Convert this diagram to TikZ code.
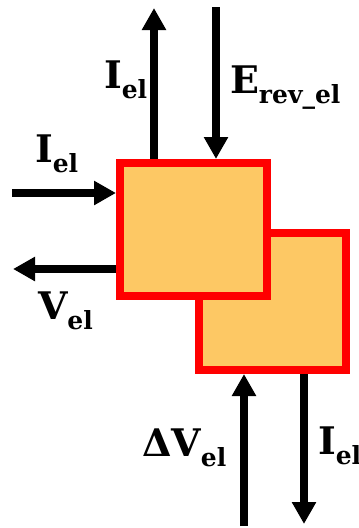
\documentclass[tikz,border=0pt]{standalone}
\usepackage{fontspec}
\usetikzlibrary{arrows.meta}
\newfontfamily\labfont{DejaVu Serif}
\definecolor{boxfill}{RGB}{253,200,100}
\newcommand\mylab[2]{{\labfont\bfseries\fontsize{38}{40}\selectfont #1\raisebox{-10pt}{\fontsize{25}{27}\selectfont #2}}}
\begin{document}
\begin{tikzpicture}[x=1pt,y=-1pt,
  blockbox/.style={draw=red,fill=boxfill,line width=8pt,inner sep=0pt,minimum width=147pt},
  arr/.style={line width=8pt,-{Triangle[width=23pt,length=22pt]}},
  lab/.style={anchor=base west,inner sep=0pt,outer sep=0pt}]
\useasboundingbox (0,0) rectangle (359,528);
\node[blockbox,minimum height=137pt] (b2) at (272.75,301.5) {};
\node[blockbox,minimum height=133pt] (b1) at (193.5,229.5) {};
% free ends
\coordinate (t1) at (154,8);
\coordinate (t2) at (216,7);
\coordinate (l1) at (12,193);
\coordinate (l2) at (13,269);
\coordinate (d1) at (244,526);
\coordinate (d2) at (304,524);
\draw[arr] (b1.north -| t1) -- (t1);
\draw[arr] (t2) -- (b1.north -| t2);
\draw[arr] (l1) -- (b1.west |- l1);
\draw[arr] (b1.west |- l2) -- (l2);
\draw[arr] (d1) -- (b2.south -| d1);
\draw[arr] (b2.south -| d2) -- (d2);
% labels
\node[lab] (n1) at (104,88) {\mylab{I}{el}};
\node[lab] (n2) at (230,93) {\mylab{E}{rev\_el}};
\node[lab] (n3) at (35,162) {\mylab{I}{el}};
\node[lab] (n4) at (38,319) {\mylab{V}{el}};
\node[lab] (n5) at (142,456) {\mylab{ΔV}{el}};
\node[lab] (n6) at (318,454) {\mylab{I}{el}};
\end{tikzpicture}
\end{document}
